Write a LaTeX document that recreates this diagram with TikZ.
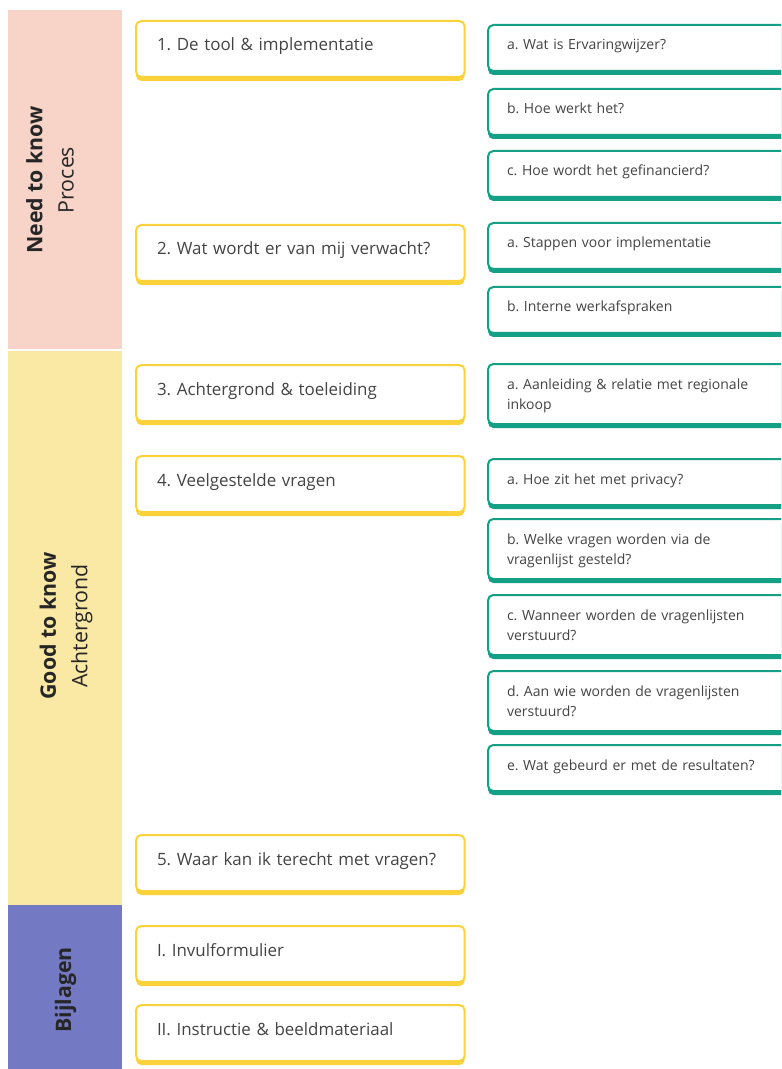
\documentclass[tikz,border=0pt]{standalone}
\usepackage{fontspec}
\setmainfont{Open Sans}
\usetikzlibrary{shadows}
\frenchspacing

\definecolor{pinkstrip}{HTML}{F8D4C8}
\definecolor{yellowstrip}{HTML}{FAE8A5}
\definecolor{purplestrip}{HTML}{7379C3}
\definecolor{ylwline}{HTML}{FCD23A}
\definecolor{grnline}{HTML}{13A085}
\definecolor{boxtext}{HTML}{444444}
\definecolor{striptext}{HTML}{262626}

\tikzset{
  strip/.style={anchor=north west,inner sep=0pt,minimum width=85.5pt},
  sidelabel/.style={rotate=90,align=center,text=striptext,font=\fontsize{16}{23.6}\selectfont},
  topic/.style={anchor=north west,draw=ylwline,line width=1.5pt,rounded corners=4pt,fill=white,
    text width=215pt,inner xsep=15.75pt,inner ysep=0pt,align=left,
    text height=22.5pt,text depth=19.5pt,text=boxtext,font=\fontsize{12.7}{15}\selectfont,
    drop shadow={shadow xshift=0pt,shadow yshift=-3pt,fill=ylwline,opacity=1}},
  subtopic/.style={anchor=north west,draw=grnline,line width=1.5pt,rounded corners=4pt,fill=white,
    text width=217.5pt,inner xsep=14.25pt,inner ysep=0pt,align=left,
    text height=18.75pt,text depth=15.75pt,text=boxtext,font=\fontsize{10.5}{15}\selectfont,
    drop shadow={shadow xshift=0pt,shadow yshift=-3pt,fill=grnline,opacity=1}},
  twolines/.style={text depth=26.25pt}
}

\begin{document}
\begin{tikzpicture}[x=0.75pt,y=-0.75pt]
      \clip (0,0) rectangle (781,1069);
      \fill[white] (0,0) rectangle (781,1069);
      % left strips
      \node[strip,fill=pinkstrip,minimum height=254.25pt] (needbar) at (8,10) {};
      \node[strip,fill=yellowstrip,minimum height=415.5pt] (goodbar) at (8,351) {};
      \node[strip,fill=purplestrip,minimum height=127.5pt] (bijbar) at (8,905) {};
      \node[sidelabel] (needlabel) at (50,180) {\textbf{Need to know}\\Proces};
      \node[sidelabel] (goodlabel) at (66,626) {\textbf{Good to know}\\Achtergrond};
      \node[sidelabel] (bijlabel) at (65.5,990) {\textbf{Bijlagen}};
      %
      \node[topic] (tool) at (135,20) {1. De tool \& implementatie};
      \node[topic] (verwacht) at (135,224) {2. Wat wordt er van mij verwacht?};
      \node[topic] (achtergrond) at (135,364) {3. Achtergrond \& toeleiding};
      \node[topic] (vragen) at (135,455) {4. Veelgestelde vragen};
      \node[topic] (terecht) at (135,834) {5. Waar kan ik terecht met vragen?};
      \node[topic] (invul) at (135,925) {I. Invulformulier};
      \node[topic] (instructie) at (135,1004) {II. Instructie \& beeldmateriaal};
      %
      \node[subtopic] (toolA) at (487,24) {a. Wat is Ervaringwijzer?};
      \node[subtopic] (toolB) at (487,88) {b. Hoe werkt het?};
      \node[subtopic] (toolC) at (487,150) {c. Hoe wordt het gefinancierd?};
      \node[subtopic] (verwachtA) at (487,222) {a. Stappen voor implementatie};
      \node[subtopic] (verwachtB) at (487,286) {b. Interne werkafspraken};
      \node[subtopic,twolines] (achtergrondA) at (487,363) {a. Aanleiding \& relatie met regionale\\inkoop};
      \node[subtopic] (vragenA) at (487,458) {a. Hoe zit het met privacy?};
      \node[subtopic,twolines] (vragenB) at (487,518) {b. Welke vragen worden via de\\vragenlijst gesteld?};
      \node[subtopic,twolines] (vragenC) at (487,594) {c. Wanneer worden de vragenlijsten\\verstuurd?};
      \node[subtopic,twolines] (vragenD) at (487,670) {d. Aan wie worden de vragenlijsten\\verstuurd?};
      \node[subtopic] (vragenE) at (487,744) {e. Wat gebeurd er met de resultaten?};
    \end{tikzpicture}
\end{document}
